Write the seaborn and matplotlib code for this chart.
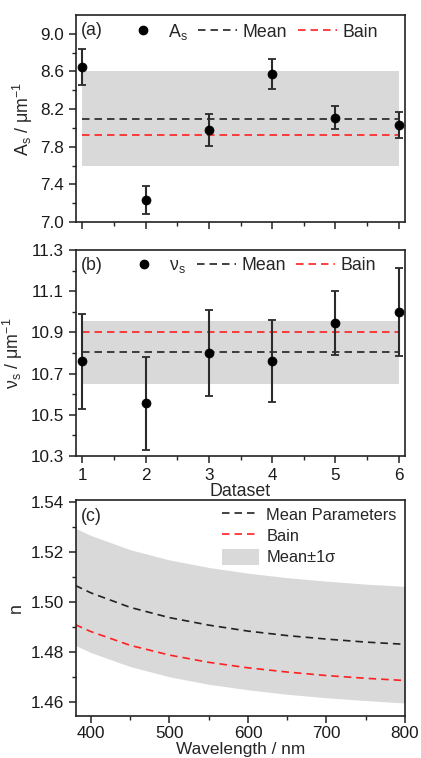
import numpy as np
import pandas as pd
import matplotlib
matplotlib.use("Agg")
import matplotlib.pyplot as plt
from matplotlib.ticker import MultipleLocator, FixedLocator, FormatStrFormatter
from matplotlib.lines import Line2D
from matplotlib.patches import Patch
import seaborn as sns

# ---------------- data ----------------
datasets = [1, 2, 3, 4, 5, 6]
As_vals = [8.65, 7.23, 7.98, 8.57, 8.11, 8.03]
As_err = [0.19, 0.15, 0.17, 0.16, 0.12, 0.14]
As_mean = 8.10
As_bain = 7.92
As_band = (7.59, 8.61)
As_ticks = [7.0, 7.4, 7.8, 8.2, 8.6, 9.0]

nus_vals = [10.76, 10.555, 10.80, 10.76, 10.945, 11.00]
nus_err = [0.23, 0.225, 0.21, 0.20, 0.155, 0.215]
nus_mean = 10.805
nus_bain = 10.90
nus_band = (10.65, 10.955)
nus_ticks = [10.3, 10.5, 10.7, 10.9, 11.1, 11.3]

wavelength = [380, 400, 450, 500, 550, 600, 650, 700, 750, 800]
n_mean = [1.5068, 1.5038, 1.4980, 1.4939, 1.4909, 1.4885, 1.4867, 1.4853, 1.4841, 1.4832]
n_bain = [1.4911, 1.4883, 1.4828, 1.4789, 1.4760, 1.4738, 1.4721, 1.4707, 1.4696, 1.4687]
n_upper = [1.5297, 1.5268, 1.5211, 1.5170, 1.5140, 1.5117, 1.5099, 1.5085, 1.5073, 1.5064]
n_lower = [1.4828, 1.4799, 1.4743, 1.4702, 1.4672, 1.4650, 1.4632, 1.4618, 1.4607, 1.4597]

# ---------------- style ----------------
sns.set_style("ticks")
plt.rcParams["font.family"] = ["Liberation Sans", "DejaVu Sans"]
plt.rcParams["mathtext.fontset"] = "custom"
plt.rcParams["mathtext.rm"] = "Liberation Sans"
plt.rcParams["mathtext.it"] = "Liberation Sans"
plt.rcParams["mathtext.sf"] = "Liberation Sans"
FS = 12.3
LFS = 12.8
BAND = "#d9d9d9"
EC = "#2b2b2b"
DASH = (0, (4.5, 3))

fig = plt.figure(figsize=(4.21, 7.58), dpi=100)
L, W = 76 / 421, 329 / 421
ax_a = fig.add_axes([L, 1 - 222 / 758, W, 207 / 758])
ax_b = fig.add_axes([L, 1 - 456 / 758, W, 206 / 758])
ax_c = fig.add_axes([L, 1 - 716 / 758, W, 216 / 758])


def style_axes(ax):
    for s in ax.spines.values():
        s.set_linewidth(1.2)
        s.set_color("#222222")
    ax.tick_params(which="major", direction="out", length=5, width=1.1,
                   labelsize=FS, colors="#222222", labelcolor="#1a1a1a")
    ax.tick_params(which="minor", direction="out", length=3, width=1.0,
                   colors="#222222")


def point_panel(ax, vals, errs, mean, bain, band, sym, label_tag, ylab,
                ylim, ticks):
    df = pd.DataFrame({"d": datasets, "v": vals})
    ax.fill_between([datasets[0], datasets[-1]], band[0], band[1],
                    color=BAND, lw=0, zorder=0)
    ax.errorbar(datasets, vals, yerr=errs, fmt="none", ecolor=EC,
                elinewidth=1.5, capsize=2.6, capthick=1.3, zorder=2)
    sns.scatterplot(data=df, x="d", y="v", ax=ax, color="black", s=42,
                    edgecolor="black", zorder=3, legend=False)
    ax.plot([datasets[0], datasets[-1]], [mean, mean], color="#222222",
            lw=1.2, linestyle=DASH, zorder=1)
    ax.plot([datasets[0], datasets[-1]], [bain, bain], color="#ff2020",
            lw=1.2, linestyle=DASH, zorder=1)
    ax.set_xlim(0.9, 6.1)
    ax.set_ylim(*ylim)
    ax.xaxis.set_major_locator(MultipleLocator(1))
    ax.xaxis.set_minor_locator(MultipleLocator(0.5))
    ax.yaxis.set_major_locator(FixedLocator(ticks))
    step = ticks[1] - ticks[0]
    minors = [t + step / 2 for t in ticks[:-1]]
    ax.yaxis.set_minor_locator(FixedLocator(minors))
    ax.yaxis.set_major_formatter(FormatStrFormatter("%.1f"))
    ax.set_ylabel(ylab, fontsize=LFS, labelpad=4)
    ax.set_xlabel("")
    style_axes(ax)
    ax.text(0.015, 0.965, label_tag, transform=ax.transAxes, fontsize=LFS,
            va="top", ha="left")
    handles = [
        Line2D([], [], marker="o", color="black", linestyle="none", markersize=6),
        Line2D([], [], color="#222222", lw=1.2, linestyle=DASH),
        Line2D([], [], color="#ff2020", lw=1.2, linestyle=DASH),
    ]
    ax.legend(handles, [sym, "Mean", "Bain"], ncol=3, frameon=False,
              loc="upper center", bbox_to_anchor=(0.53, 1.045), fontsize=LFS,
              handlelength=2.2, columnspacing=0.6, handletextpad=0.3)


point_panel(ax_a, As_vals, As_err, As_mean, As_bain, As_band, r"A$_\mathrm{s}$",
            "(a)", r"A$_\mathrm{s}$ / μm$^{-1}$", (7.0, 9.2), As_ticks)
ax_a.tick_params(axis="x", labelbottom=False)

point_panel(ax_b, nus_vals, nus_err, nus_mean, nus_bain, nus_band,
            r"ν$_\mathrm{s}$", "(b)", r"ν$_\mathrm{s}$ / μm$^{-1}$",
            (10.3, 11.3), nus_ticks)
ax_b.set_xlabel("Dataset", fontsize=LFS, labelpad=0)

# ---------------- panel c ----------------
dfc = pd.DataFrame({"wl": wavelength, "mean": n_mean, "bain": n_bain})
ax_c.fill_between(wavelength, n_lower, n_upper, color=BAND, lw=0, zorder=0)
sns.lineplot(data=dfc, x="wl", y="mean", ax=ax_c, color="#222222", lw=1.2,
             linestyle="--", zorder=2)
sns.lineplot(data=dfc, x="wl", y="bain", ax=ax_c, color="#ff2020", lw=1.2,
             linestyle="--", zorder=2)
for ln in ax_c.get_lines():
    ln.set_dashes((4.5, 3))
ax_c.set_xlim(381, 800)
ax_c.set_ylim(1.4545, 1.541)
ax_c.xaxis.set_major_locator(MultipleLocator(100))
ax_c.xaxis.set_minor_locator(MultipleLocator(50))
ax_c.yaxis.set_major_locator(MultipleLocator(0.02))
ax_c.yaxis.set_minor_locator(MultipleLocator(0.01))
ax_c.yaxis.set_major_formatter(FormatStrFormatter("%.2f"))
ax_c.set_xlabel("Wavelength / nm", fontsize=12.4, labelpad=0.5)
ax_c.set_ylabel("n", fontsize=LFS, labelpad=4)
style_axes(ax_c)
ax_c.tick_params(axis="x", pad=2.5)
ax_c.text(0.015, 0.965, "(c)", transform=ax_c.transAxes, fontsize=LFS,
          va="top", ha="left")
hc = [
    Line2D([], [], color="#222222", lw=1.2, linestyle=DASH),
    Line2D([], [], color="#ff2020", lw=1.2, linestyle=DASH),
    Patch(facecolor=BAND, edgecolor="none"),
]
ax_c.legend(hc, ["Mean Parameters", "Bain", "Mean±1σ"], frameon=False,
            loc="upper right", bbox_to_anchor=(1.01, 1.025), fontsize=11.8,
            handlelength=2.3, handleheight=1.1, labelspacing=0.3,
            handletextpad=0.43, borderaxespad=0.3)

fig.savefig("out.png", dpi=100)
